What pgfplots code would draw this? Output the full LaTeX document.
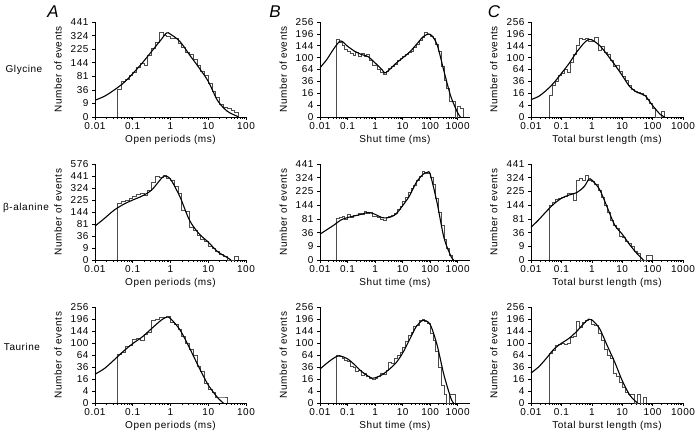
\documentclass[border=0pt]{standalone}
\usepackage{fontspec}
\setmainfont[LetterSpace=5.5]{Liberation Sans}
\setsansfont[LetterSpace=5.5]{Liberation Sans}
\usepackage{pgfplots}
\usepackage{pgfplotstable}
\pgfplotsset{compat=1.18}

% ---------- Glycine ----------
\pgfplotstableread{
x y
0.04 0
0.04 36
0.0501 62
0.0631 71
0.0794 86
0.1 98
0.1259 121
0.1585 142
0.1995 132
0.2512 185
0.3162 231
0.3981 272
0.5012 346
0.6310 324
0.7943 320
1 306
1.259 306
1.585 262
1.995 237
2.512 202
3.162 190
3.981 164
5.012 128
6.310 100
7.943 85
10 55
12.59 32
15.85 18
19.95 8
25.12 5
31.62 4
39.81 2
50.12 1
63.10 0
}\hGA
\pgfplotstableread{
x y
0.01 13.7
0.01778 21
0.03162 35
0.05623 56
0.1 92
0.1778 142
0.3162 210
0.5623 292
0.7943 346
1 335
1.778 279
3.162 190
5.623 120
10 62
17.78 13
31.62 1.7
56.23 0.05
63.1 0
}\fGA
\pgfplotstableread{
x y
0.04 0
0.04 169
0.0501 159
0.0631 144
0.0794 130
0.1 121
0.1259 114
0.1585 108
0.1995 117
0.2512 104
0.3162 114
0.3981 106
0.5012 110
0.6310 90
0.7943 76
1 76
1.259 64
1.585 56
1.995 52
2.512 58
3.162 66
3.981 72
5.012 79
6.310 90
7.943 96
10 104
12.59 110
15.85 117
19.95 121
25.12 139
31.62 151
39.81 166
50.12 182
63.10 202
79.43 193
100 185
125.9 174
158.5 149
199.5 121
251.2 72
316.2 38
398.1 24
501.2 7
631.0 7
794.3 0
1000 3
1259 2
1585 0
}\hGB
\pgfplotstableread{
x y
0.01 69
0.01778 94
0.03162 132
0.05623 164
0.1 142
0.1778 123
0.3162 111
0.5623 103
1 83
1.778 64
2.239 55
3.162 62
5.623 81
10 99
17.78 119
31.62 149
56.23 183
100 194
177.8 149
316.2 60
562.3 12
1000 0.5
1259 0
}\fGB
\pgfplotstableread{
x y
0.04 0
0.04 13
0.0501 29
0.0631 36
0.0794 50
0.1 53
0.1259 64
0.1585 56
0.1995 85
0.2512 110
0.3162 144
0.3981 177
0.5012 169
0.6310 174
0.7943 161
1 164
1.259 180
1.585 125
1.995 142
2.512 119
3.162 110
3.981 90
5.012 74
6.310 77
7.943 58
10 46
12.59 38
15.85 29
19.95 21
25.12 19
31.62 17
39.81 16
50.12 13
63.10 9
79.43 5
100 2
125.9 0
158.5 0
199.5 1
251.2 0
}\hGC
\pgfplotstableread{
x y
0.01 8.6
0.01778 12
0.03162 20
0.05623 33
0.1 54
0.1778 81
0.3162 119
0.5623 156
0.7943 171
1 169
1.778 146
3.162 111
5.623 78
10 49
17.78 26
31.62 17
56.23 13
100 3.7
177.8 0.2
251.2 0
}\fGC
% ---------- beta-alanine ----------
\pgfplotstableread{
x y
0.04 0
0.04 199
0.0501 213
0.0631 225
0.0794 234
0.1 253
0.1259 266
0.1585 279
0.1995 262
0.2512 306
0.3162 372
0.3981 433
0.5012 424
0.6310 449
0.7943 412
1 400
1.259 336
1.585 278
1.995 156
2.512 146
3.162 67
3.981 56
5.012 39
6.310 27
7.943 21
10 11
12.59 8
15.85 5
19.95 2
25.12 1
31.62 0
39.81 0
50.12 1
63.10 0
}\hBA
\pgfplotstableread{
x y
0.01 72
0.01778 108
0.03162 154
0.05623 193
0.1 225
0.1778 256
0.3162 306
0.5623 412
0.7079 441
1 408
1.778 250
3.162 100
5.623 44
10 20
17.78 4.3
31.62 0.4
39.81 0
}\fBA
\pgfplotstableread{
x y
0.04 0
0.04 83
0.0501 86
0.0631 92
0.0794 81
0.1 100
0.1259 88
0.1585 96
0.1995 96
0.2512 104
0.3162 98
0.3981 112
0.5012 104
0.6310 108
0.7943 90
1 92
1.259 85
1.585 81
1.995 77
2.512 85
3.162 90
3.981 96
5.012 104
6.310 125
7.943 139
10 164
12.59 190
15.85 219
19.95 243
25.12 269
31.62 303
39.81 335
50.12 380
63.10 357
79.43 361
100 324
125.9 272
158.5 182
199.5 110
251.2 56
316.2 20
398.1 6
501.2 1
631.0 0
}\hBB
\pgfplotstableread{
x y
0.01 32
0.03162 58
0.05623 76
0.1 86
0.3162 100
0.5623 108
1 100
1.778 86
3.162 86
5.623 100
10 141
17.78 197
31.62 289
56.23 353
79.43 367
100 353
177.8 158
316.2 24
562.3 0.8
707.9 0
}\fBB
\pgfplotstableread{
x y
0.04 0
0.04 144
0.0501 159
0.0631 174
0.0794 180
0.1 190
0.1259 196
0.1585 213
0.1995 213
0.2512 172
0.3162 300
0.3981 317
0.5012 306
0.6310 339
0.7943 306
1 296
1.259 276
1.585 231
1.995 185
2.512 142
3.162 110
3.981 74
5.012 58
6.310 49
7.943 27
10 25
12.59 16
15.85 13
19.95 9
25.12 4
31.62 2
39.81 0
50.12 0
63.10 1
79.43 1
100 0
}\hBC
\pgfplotstableread{
x y
0.01 51
0.01778 77
0.03162 112
0.05623 150
0.1 182
0.1778 202
0.3162 217
0.5623 258
0.7943 312
1 306
1.778 240
3.162 136
5.623 59
10 32
17.78 11
31.62 1.7
50.12 0
}\fBC
% ---------- Taurine ----------
\pgfplotstableread{
x y
0.04 0
0.04 67
0.0501 72
0.0631 88
0.0794 92
0.1 112
0.1259 117
0.1585 108
0.1995 130
0.2512 139
0.3162 190
0.3981 196
0.5012 202
0.6310 204
0.7943 210
1 180
1.259 172
1.585 149
1.995 125
2.512 100
3.162 81
3.981 64
5.012 37
6.310 27
7.943 11
10 5
12.59 3
15.85 1
19.95 1
25.12 1
31.62 0
}\hTA
\pgfplotstableread{
x y
0.01 23
0.01778 33
0.03162 51
0.05623 74
0.1 98
0.1778 121
0.3162 154
0.5623 190
0.7943 205
1 198
1.778 149
3.162 85
5.623 36
10 9
17.78 0.8
25.12 0
}\fTA
\pgfplotstableread{
x y
0.04 0
0.04 63
0.0501 61
0.0631 56
0.0794 50
0.1 48
0.1259 38
0.1585 35
0.1995 28
0.2512 30
0.3162 21
0.3981 24
0.5012 19
0.6310 17
0.7943 16
1 17
1.259 20
1.585 25
1.995 23
2.512 30
3.162 45
3.981 44
5.012 55
6.310 64
7.943 71
10 85
12.59 104
15.85 128
19.95 137
25.12 164
31.62 166
39.81 188
50.12 193
63.10 185
79.43 174
100 135
125.9 110
158.5 74
199.5 36
251.2 9
316.2 2
398.1 0
501.2 2
631.0 2
794.3 0
}\hTB
\pgfplotstableread{
x y
0.01 32
0.01778 44
0.03162 56
0.0501 62
0.1 54
0.1778 41
0.3162 28
0.5623 20
0.7943 17
1 17.6
1.778 22
3.162 31
5.623 44
10 69
17.78 111
31.62 163
56.23 190
100 171
177.8 94
316.2 22
562.3 0.7
707.9 0
}\fTB
\pgfplotstableread{
x y
0.04 0
0.04 69
0.0501 77
0.0631 92
0.0794 96
0.1 100
0.1259 96
0.1585 100
0.1995 121
0.2512 125
0.3162 185
0.3981 159
0.5012 182
0.6310 190
0.7943 196
1 172
1.259 166
1.585 135
1.995 110
2.512 81
3.162 64
3.981 55
5.012 25
6.310 20
7.943 12
10 7
12.59 3
15.85 2
19.95 2
25.12 0
31.62 2
39.81 0
50.12 1
63.10 0
}\hTC
\pgfplotstableread{
x y
0.01 25
0.01778 36
0.03162 55
0.05623 80
0.1 99
0.1778 116
0.3162 142
0.5623 177
0.7943 195
1 192
1.778 155
3.162 93
5.623 47
10 14
17.78 1.7
31.62 0
}\fTC

\newcommand{\lbl}{\fontsize{10}{11}\selectfont}

\pgfplotsset{
  /pgfplots/y coord trafo/.code={\pgfmathparse{sqrt(#1)}},
  /pgfplots/y coord inv trafo/.code={\pgfmathparse{(#1)^2}},
  /pgfplots/rkpanel/.style={
    /pgfplots/scale only axis,
    /pgfplots/xmin=0.01,
    /pgfplots/ymin=0,
    /pgfplots/axis lines*=left,
    /pgfplots/axis line style={line width=0.8pt, black},
    /pgfplots/tick align=outside,
    /pgfplots/major tick length=3pt,
    /pgfplots/minor tick length=1.8pt,
    /pgfplots/tick style={line width=0.6pt, black},
    /pgfplots/tick label style={font=\lbl},
    /pgfplots/xticklabel style={anchor=base, yshift=-9.5pt},
    /pgfplots/yticklabel style={anchor=east},
    /pgfplots/ylabel={Number of events},
    /pgfplots/ylabel style={at={(axis description cs:-0.245,0.5)}, anchor=center, font=\lbl},
    /pgfplots/xlabel style={at={(axis description cs:0.5,0)}, anchor=base, yshift=-25.5pt, font=\lbl},
    /pgfplots/clip=false,
  },
  /pgfplots/rkA/.style={/pgfplots/rkpanel, /pgfplots/width=151pt, /pgfplots/xmax=100,
    /pgfplots/xtick={0.01,0.1,1,10,100}, /pgfplots/xticklabels={0.01,0.1,1,10,100},
    /pgfplots/xlabel={Open periods (ms)}},
  /pgfplots/rkB/.style={/pgfplots/rkpanel, /pgfplots/width=150pt, /pgfplots/xmax=2800,
    /pgfplots/xtick={0.01,0.1,1,10,100,1000}, /pgfplots/xticklabels={0.01,0.1,1,10,100,1000},
    /pgfplots/xlabel={Shut time (ms)}},
  /pgfplots/rkC/.style={/pgfplots/rkpanel, /pgfplots/width=152pt, /pgfplots/xmax=1000,
    /pgfplots/xtick={0.01,0.1,1,10,100,1000}, /pgfplots/xticklabels={0.01,0.1,1,10,100,1000},
    /pgfplots/xlabel={Total burst length (ms)}},
  /pgfplots/rkq/.style={/pgfplots/ymax=441, /pgfplots/ytick={0,9,36,81,144,225,324,441}, /pgfplots/yticklabels={0,9,36,81,144,225,324,441}},
  /pgfplots/rkr/.style={/pgfplots/ymax=576, /pgfplots/ytick={0,9,36,81,144,225,324,441,576}, /pgfplots/yticklabels={0,9,36,81,144,225,324,441,576}},
  /pgfplots/rks/.style={/pgfplots/ymax=256, /pgfplots/ytick={0,4,16,36,64,100,144,196,256}, /pgfplots/yticklabels={0,4,16,36,64,100,144,196,256}},
}

\begin{document}
\begin{tikzpicture}
\useasboundingbox (0pt,0pt) rectangle (696pt,435pt);

% Row 1: Glycine
\begin{axis}[xmode=log, rkA, rkq, height=95pt, at={(95pt,318pt)}, anchor=south west]
\addplot[const plot, no marks, line width=0.7pt, black!70] table {\hGA};
\addplot[smooth, no marks, line width=1.1pt, black] table {\fGA};
\end{axis}
\begin{axis}[xmode=log, rkB, rks, height=95pt, at={(320pt,318pt)}, anchor=south west]
\addplot[const plot, no marks, line width=0.7pt, black!70] table {\hGB};
\addplot[smooth, no marks, line width=1.1pt, black] table {\fGB};
\end{axis}
\begin{axis}[xmode=log, rkC, rks, height=95pt, at={(531pt,318pt)}, anchor=south west]
\addplot[const plot, no marks, line width=0.7pt, black!70] table {\hGC};
\addplot[smooth, no marks, line width=1.1pt, black] table {\fGC};
\end{axis}

% Row 2: beta-alanine
\begin{axis}[xmode=log, rkA, rkr, height=96pt, at={(95pt,175pt)}, anchor=south west]
\addplot[const plot, no marks, line width=0.7pt, black!70] table {\hBA};
\addplot[smooth, no marks, line width=1.1pt, black] table {\fBA};
\end{axis}
\begin{axis}[xmode=log, rkB, rkq, height=96pt, at={(320pt,175pt)}, anchor=south west]
\addplot[const plot, no marks, line width=0.7pt, black!70] table {\hBB};
\addplot[smooth, no marks, line width=1.1pt, black] table {\fBB};
\end{axis}
\begin{axis}[xmode=log, rkC, rkq, height=96pt, at={(531pt,175pt)}, anchor=south west]
\addplot[const plot, no marks, line width=0.7pt, black!70] table {\hBC};
\addplot[smooth, no marks, line width=1.1pt, black] table {\fBC};
\end{axis}

% Row 3: Taurine
\begin{axis}[xmode=log, rkA, rks, height=96pt, at={(95pt,32pt)}, anchor=south west]
\addplot[const plot, no marks, line width=0.7pt, black!70] table {\hTA};
\addplot[smooth, no marks, line width=1.1pt, black] table {\fTA};
\end{axis}
\begin{axis}[xmode=log, rkB, rks, height=96pt, at={(320pt,32pt)}, anchor=south west]
\addplot[const plot, no marks, line width=0.7pt, black!70] table {\hTB};
\addplot[smooth, no marks, line width=1.1pt, black] table {\fTB};
\end{axis}
\begin{axis}[xmode=log, rkC, rks, height=96pt, at={(531pt,32pt)}, anchor=south west]
\addplot[const plot, no marks, line width=0.7pt, black!70] table {\hTC};
\addplot[smooth, no marks, line width=1.1pt, black] table {\fTC};
\end{axis}

\node[font=\lbl] at (24pt,365pt) {Glycine};
\node[font=\lbl] at (26pt,227pt) {β-alanine};
\node[font=\lbl] at (22pt,88pt) {Taurine};
\node[font=\fontsize{17}{17}\selectfont\itshape] at (53pt,423pt) {A};
\node[font=\fontsize{17}{17}\selectfont\itshape] at (275pt,423pt) {B};
\node[font=\fontsize{17}{17}\selectfont\itshape] at (494pt,423pt) {C};
\end{tikzpicture}
\end{document}
